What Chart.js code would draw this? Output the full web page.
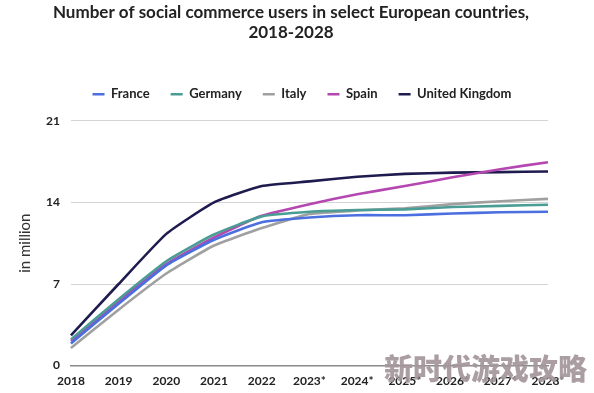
<!DOCTYPE html>
<html>
<head>
<meta charset="utf-8">
<script src="https://cdn.jsdelivr.net/npm/chart.js@4"></script>
<style>
    html, body { margin: 0; padding: 0; background: #fff; }
    #wrap { position: relative; width: 594px; height: 393px; }
    #mark {
        position: absolute; left: 384px; top: 346px;
        font-family: "Noto Sans CJK SC", sans-serif; font-weight: 900;
        font-size: 29px; color: rgba(163, 150, 155, 0.92);
        white-space: nowrap;
    }
</style>
</head>
<body>
<div id="wrap">
    <canvas id="myChart" width="594" height="393"></canvas>
    <div id="mark">新时代游戏攻略</div>
</div>
<script>
// chart data
const years = ['2018', '2019', '2020', '2021', '2022', '2023*', '2024*', '2025*', '2026*', '2027*', '2028*'];
const france = [1.9, 5.3, 8.6, 10.8, 12.3, 12.7, 12.9, 12.9, 13.05, 13.15, 13.2];
const germany = [2.25, 5.7, 8.95, 11.25, 12.8, 13.2, 13.35, 13.4, 13.6, 13.7, 13.8];
const italy = [1.5, 4.8, 7.9, 10.3, 11.8, 13.0, 13.3, 13.5, 13.85, 14.1, 14.3];
const spain = [2.1, 5.5, 8.7, 11.0, 12.85, 13.85, 14.7, 15.4, 16.15, 16.85, 17.45];
const uk = [2.6, 7.0, 11.3, 14.0, 15.4, 15.8, 16.2, 16.45, 16.55, 16.6, 16.65];
const yTicks = [0, 7, 14, 21];

const font = "Lato, 'Open Sans', sans-serif";

const series = [
    { label: 'France', data: france, color: '#4c6fe0' },
    { label: 'Germany', data: germany, color: '#4a9d95' },
    { label: 'Italy', data: italy, color: '#a0a0a0' },
    { label: 'Spain', data: spain, color: '#b548b0' },
    { label: 'United Kingdom', data: uk, color: '#1e1b4f' },
];

const chart = document.getElementById('myChart');

const data = {
    labels: years,
    datasets: series.map(s => ({
        label: s.label,
        data: s.data,
        borderColor: s.color,
        backgroundColor: s.color,
        borderWidth: 2.6,
        pointRadius: 0,
        tension: 0.15,
    }))
};

// shift a box sideways when it is drawn (title and legend sit a bit right of the plot centre)
const nudge = (box, dx) => {
    const draw = box.draw;
    box.draw = function (area) {
        const ctx = this.ctx;
        ctx.save();
        ctx.translate(dx, 0);
        draw.call(this, area);
        ctx.restore();
    };
};

// extra room between the legend and the plot, plus the sideways nudges
const legendGap = {
    id: 'legendGap',
    beforeInit(c) {
        const fit = c.legend.fit;
        c.legend.fit = function () {
            fit.bind(c.legend)();
            this.height += 10;
        };
        nudge(c.legend, 20);
        nudge(c.titleBlock, 9);
    }
};

const config = {
    type: 'line',
    data: data,
    plugins: [legendGap],
    options: {
        responsive: false,
        animation: false,
        layout: { padding: { left: 16, right: 46, top: 0, bottom: 5 } },
        plugins: {
            title: {
                display: true,
                text: ['Number of social commerce users in select European countries,', '2018-2028'],
                color: '#222',
                font: { family: font, size: 17, weight: 'bold', lineHeight: 1.2 },
                padding: { top: 2, bottom: 24 },
            },
            legend: {
                labels: {
                    usePointStyle: true,
                    pointStyle: 'line',
                    pointStyleWidth: 12,
                    color: '#222',
                    font: { family: font, size: 13, weight: 'bold' },
                    padding: 21,
                },
            },
            tooltip: { enabled: false },
        },
        scales: {
            x: {
                offset: false,
                grid: { display: false },
                border: { display: true, color: '#8a8a8a', width: 1.5 },
                ticks: {
                    color: '#222',
                    font: { family: font, size: 12, weight: 'bold' },
                    maxRotation: 0,
                    autoSkip: false,
                    padding: 0,
                },
            },
            y: {
                min: 0,
                max: 21,
                afterBuildTicks: axis => { axis.ticks = yTicks.map(v => ({ value: v })); },
                grid: { color: '#d4d4d4', lineWidth: 1, drawTicks: false },
                border: { display: false },
                ticks: {
                    color: '#222',
                    font: { family: font, size: 12, weight: 'bold' },
                    padding: 11,
                },
                title: {
                    display: true,
                    text: 'in million',
                    color: '#333',
                    font: { family: font, size: 15 },
                    padding: { top: 0, bottom: 1 },
                },
            },
        },
    },
};

const myChart = new Chart(chart, config);
</script>
</body>
</html>
